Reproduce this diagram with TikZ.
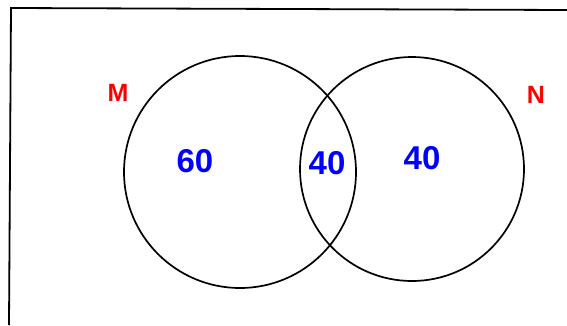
\documentclass[tikz,border=0pt]{standalone}
\usepackage{fontspec}
\setmainfont{Liberation Sans}
\begin{document}
\begin{tikzpicture}[x=1pt,y=-1pt,
  setc/.style={circle,draw=black,line width=1.7pt,inner sep=0pt},
  num/.style={text=blue,font=\bfseries\fontsize{33}{36}\selectfont,inner sep=0pt},
  lbl/.style={text=red,font=\bfseries\fontsize{25}{27}\selectfont,inner sep=0pt}]
\useasboundingbox (0,0) rectangle (567,325);
\coordinate (tl) at (11,8);
\coordinate (tr) at (567,10);
\coordinate (bl) at (9,325);
\draw[line width=1.8pt] (tr) -- (tl) -- (bl);
\node[setc,minimum size=232pt] (cm) at (240,172) {};
\node[setc,minimum size=224pt] (cn) at (412,169) {};
\node[num] (n60) at (195,161) {60};
\node[num] (n40a) at (327,163) {40};
\node[num] (n40b) at (422,158) {40};
\node[lbl] (lm) at (118,93) {M};
\node[lbl] (ln) at (536,95) {N};
\end{tikzpicture}
\end{document}
